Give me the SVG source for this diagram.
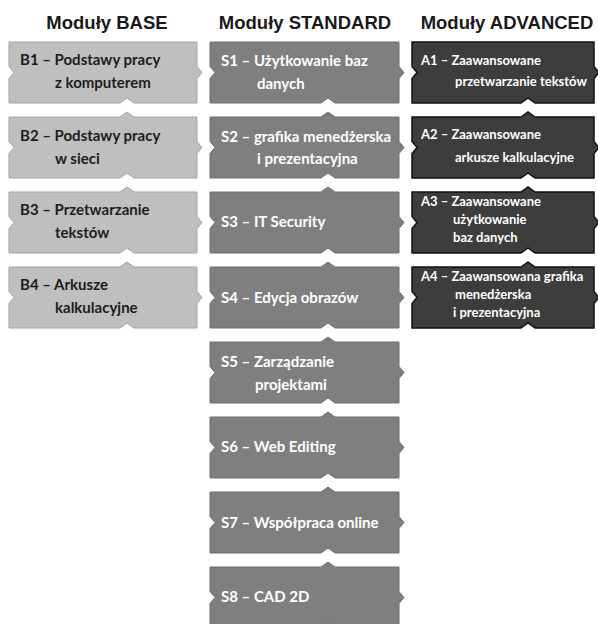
<svg xmlns="http://www.w3.org/2000/svg" xmlns:xlink="http://www.w3.org/1999/xlink" width="598" height="624" viewBox="0 0 598 624">
<style>
.hdr{font-family:"Liberation Sans",Arial,sans-serif;font-weight:bold;font-size:18.5px;fill:#1a1a1a;text-anchor:middle}
.t{font-family:Lato,"Open Sans",sans-serif;font-weight:bold;font-size:15px}
.ta{font-family:Lato,"Open Sans",sans-serif;font-weight:bold;font-size:13px;fill:#ffffff}
.b{fill:#bfbfbf;stroke:#a3a3a3;stroke-width:1}
.s{fill:#7f7f7f;stroke:#6e6e6e;stroke-width:1}
.a{fill:#3d3d3d;stroke:#111111;stroke-width:1.5}
.tb{fill:#1c1c1c}
.tw{fill:#ffffff}
</style>
<defs>
<path id="bf" d="M0,0H188V24.5L193,30.5L188,36.5V61H125L118,56L111,61H0V36.5L5,30.5L0,24.5Z"/>
<path id="bm" d="M0,0H111L118,-5L125,0H188V24.5L193,30.5L188,36.5V61H125L118,56L111,61H0V36.5L5,30.5L0,24.5Z"/>
<path id="sf" d="M0,0H189V24.5L194,30.5L189,36.5V61H125L118,56L111,61H0V36.5L5,30.5L0,24.5Z"/>
<path id="sm" d="M0,0H111L118,-5L125,0H189V24.5L194,30.5L189,36.5V61H125L118,56L111,61H0V36.5L5,30.5L0,24.5Z"/>
<path id="af" d="M0,0H182V24.5L187,30.5L182,36.5V61H123L116,56L109,61H0V36.5L5,30.5L0,24.5Z"/>
<path id="am" d="M0,0H109L116,-5L123,0H182V24.5L187,30.5L182,36.5V61H123L116,56L109,61H0V36.5L5,30.5L0,24.5Z"/>
</defs>
<rect width="598" height="624" fill="#ffffff"/>
<g id="headers">
<text class="hdr" x="107" y="29">Moduły BASE</text>
<text class="hdr" x="305" y="29">Moduły STANDARD</text>
<text class="hdr" x="507" y="29">Moduły ADVANCED</text>
</g>
<g id="B1" transform="translate(9,42)"><use xlink:href="#bf" class="b"/><text class="t tb" x="11" y="23">B1 – Podstawy pracy</text><text class="t tb" x="46" y="46">z komputerem</text></g>
<g id="B2" transform="translate(9,117)"><use xlink:href="#bm" class="b"/><text class="t tb" x="11" y="24">B2 – Podstawy pracy</text><text class="t tb" x="46" y="47">w sieci</text></g>
<g id="B3" transform="translate(9,192)"><use xlink:href="#bm" class="b"/><text class="t tb" x="11" y="23">B3 – Przetwarzanie</text><text class="t tb" x="46" y="46">tekstów</text></g>
<g id="B4" transform="translate(9,267)"><use xlink:href="#bm" class="b"/><text class="t tb" x="11" y="23">B4 – Arkusze</text><text class="t tb" x="46" y="46">kalkulacyjne</text></g>

<g id="S1" transform="translate(210,42)"><use xlink:href="#sf" class="s"/><text class="t tw" x="11" y="24">S1 – Użytkowanie baz</text><text class="t tw" x="47" y="47">danych</text></g>
<g id="S2" transform="translate(210,117)"><use xlink:href="#sm" class="s"/><text class="t tw" x="11" y="25">S2 – grafika menedżerska</text><text class="t tw" x="47" y="47">i prezentacyjna</text></g>
<g id="S3" transform="translate(210,192)"><use xlink:href="#sm" class="s"/><text class="t tw" x="11" y="35">S3 – IT Security</text></g>
<g id="S4" transform="translate(210,267)"><use xlink:href="#sm" class="s"/><text class="t tw" x="11" y="35.5">S4 – Edycja obrazów</text></g>
<g id="S5" transform="translate(210,342)"><use xlink:href="#sm" class="s"/><text class="t tw" x="11" y="25">S5 – Zarządzanie</text><text class="t tw" x="45" y="48">projektami</text></g>
<g id="S6" transform="translate(210,417)"><use xlink:href="#sm" class="s"/><text class="t tw" x="11" y="35">S6 – Web Editing</text></g>
<g id="S7" transform="translate(210,492)"><use xlink:href="#sm" class="s"/><text class="t tw" x="11" y="36">S7 – Współpraca online</text></g>
<g id="S8" transform="translate(210,567)"><use xlink:href="#sm" class="s"/><text class="t tw" x="11" y="35">S8 – CAD 2D</text></g>

<g id="A1" transform="translate(412,42)"><use xlink:href="#af" class="a"/><text class="ta" x="9" y="23">A1 – Zaawansowane</text><text class="ta" x="43" y="44">przetwarzanie tekstów</text></g>
<g id="A2" transform="translate(412,117)"><use xlink:href="#am" class="a"/><text class="ta" x="9" y="22">A2 – Zaawansowane</text><text class="ta" x="43" y="45">arkusze kalkulacyjne</text></g>
<g id="A3" transform="translate(412,192)"><use xlink:href="#am" class="a"/><text class="ta" x="9" y="14">A3 – Zaawansowane</text><text class="ta" x="41" y="32">użytkowanie</text><text class="ta" x="41" y="50">baz danych</text></g>
<g id="A4" transform="translate(412,267)"><use xlink:href="#am" class="a"/><text class="ta" x="9" y="14">A4 – Zaawansowana grafika</text><text class="ta" x="43" y="32">menedżerska</text><text class="ta" x="41" y="50">i prezentacyjna</text></g>
<g id="connectors"/>
</svg>
